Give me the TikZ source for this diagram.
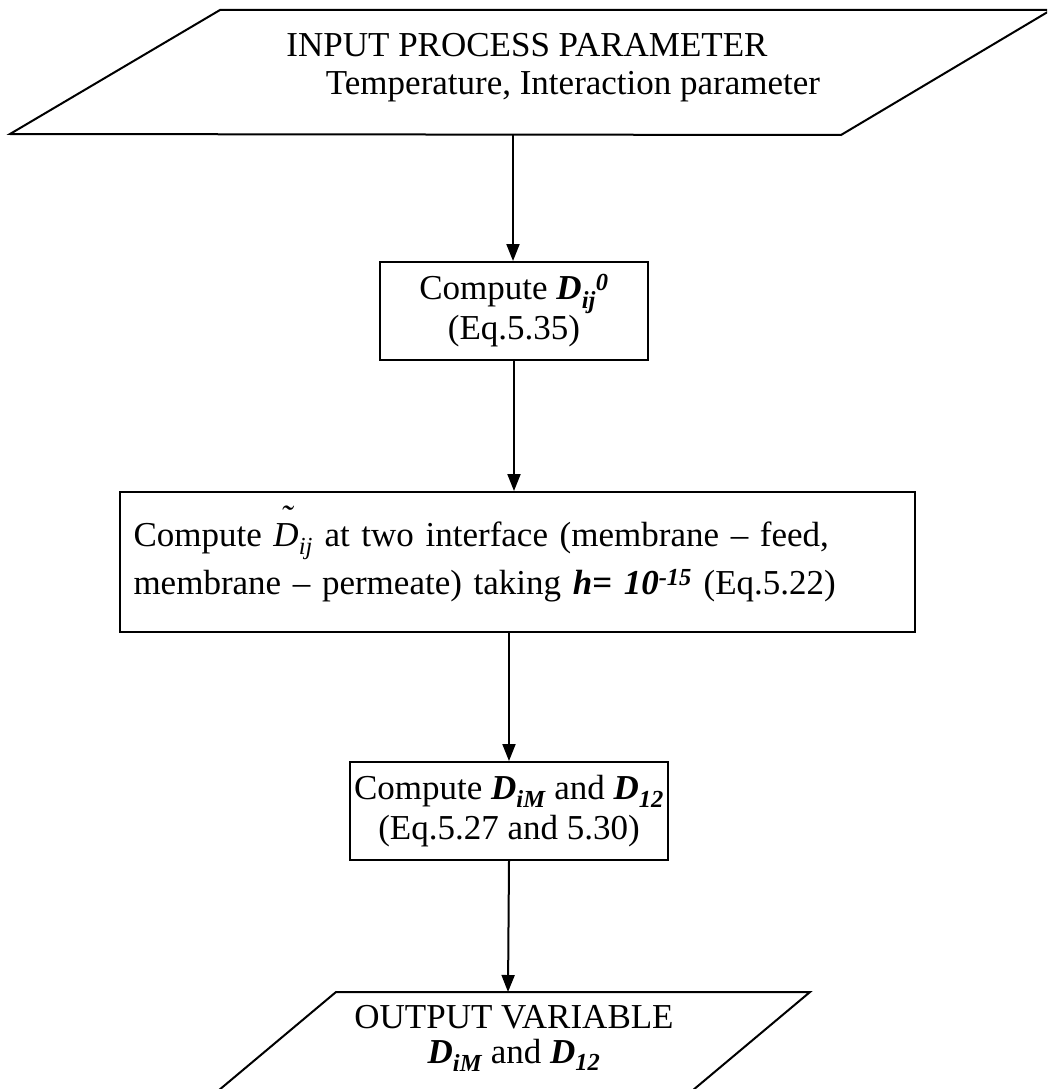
\documentclass[tikz,border=0pt]{standalone}
\usepackage{fontspec}
\setmainfont{Liberation Serif}
\usetikzlibrary{arrows.meta}
\newcommand\bi[1]{\textbf{\textit{#1}}}
\newcommand\tildeD{\textit{\ooalign{D\cr\hidewidth\raisebox{0.48em}{˜}\hidewidth\cr}}}
\begin{document}
\begin{tikzpicture}[x=1pt,y=-1pt, line width=2pt,
  font=\fontsize{35}{40}\selectfont,
  box/.style={draw, inner sep=0pt, align=center},
  lbl/.style={anchor=base, inner sep=0pt},
  arr/.style={-{Triangle[length=17pt,width=13pt]}}]
\path[use as bounding box] (0,0) rectangle (1047,1089);
\clip (0,0) rectangle (1047,1089);
% input parallelogram
\coordinate (p1) at (10,134);
\coordinate (p2) at (841,135);
\coordinate (p3) at (1051,10);
\coordinate (p4) at (220,10);
\draw (p1) -- (p2) -- (p3) -- (p4) -- cycle;
\node[lbl] (in1) at (527,57) {INPUT PROCESS PARAMETER};
\node[lbl] (in2) at (573,95) {Temperature, Interaction parameter};
\coordinate (inb) at (513,135);
% boxes
\node[box, minimum width=268pt, minimum height=98pt] (b1) at (514,311)
  {Compute \bi{D\textsubscript{ij}\textsuperscript{0}}\\(Eq.5.35)};
\node[box, minimum width=795pt, minimum height=140pt, align=left,
  text width=767pt, inner xsep=14pt, font=\fontsize{35}{48}\selectfont] (b2) at (517,562)
  {Compute \tildeD\textsubscript{\textit{ij}} at two interface (membrane – feed,\\
   membrane – permeate) taking \bi{h= 10\textsuperscript{-15}} (Eq.5.22)};
\node[box, minimum width=318pt, minimum height=98pt] (b3) at (509,811)
  {Compute \bi{D\textsubscript{iM}} and \bi{D\textsubscript{12}}\\(Eq.5.27 and 5.30)};
% output parallelogram
\coordinate (q1) at (200,1106);
\coordinate (q2) at (674,1106);
\coordinate (q3) at (810,992);
\coordinate (q4) at (336,992);
\draw (q1) -- (q2) -- (q3) -- (q4) -- cycle;
\node[lbl] (out1) at (514,1028) {OUTPUT VARIABLE};
\node[lbl] (out2) at (514,1063) {\bi{D\textsubscript{iM}} and \bi{D\textsubscript{12}}};
\coordinate (outt) at (508,992);
% connectors
\draw[arr] (inb) -- (inb |- b1.north);
\draw[arr] (b1.south) -- (b1.south |- b2.north);
\draw[arr] (b2.south -| b3.north) -- (b3.north);
\draw[arr] (b3.south) -- (outt);
\end{tikzpicture}
\end{document}
